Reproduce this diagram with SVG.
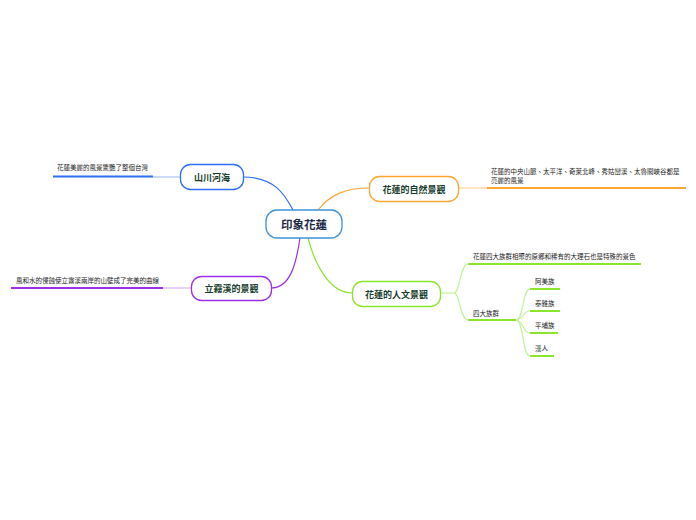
<svg xmlns="http://www.w3.org/2000/svg" width="696" height="520" viewBox="0 0 696 520">
<style>
.node{fill:#fff;stroke-width:1.3}
.lbl{font-family:"Noto Sans CJK TC","Noto Sans CJK SC",sans-serif;font-size:9px;fill:#173d2c;font-weight:bold;text-anchor:middle;dominant-baseline:central}
.sm{font-family:"Noto Sans CJK TC","Noto Sans CJK SC",sans-serif;font-size:6.5px;fill:#222}
.c{fill:none;stroke-width:1.2}
.u{fill:none;stroke-width:2}
</style>
<rect width="696" height="520" fill="#fff"/>
<g id="connectors">
<path class="c" stroke="#2f6ef5" d="M243,177 C275,177 285,195 293,210"/>
<path class="c" stroke="#ffa630" d="M318,210 C330,195 345,188 369,188"/>
<path class="c" stroke="#9b30e8" d="M300,238 C296,265 290,288 271,288"/>
<path class="c" stroke="#8ae62a" d="M308,238 C315,265 330,293 352,293"/>
<path class="c" stroke="#a9c3fb" d="M180,177 L153,177"/>
<path class="u" stroke="#2f6ef5" d="M153,176.5 L53,176.5"/>
<path class="c" stroke="#ffcf95" d="M459,188 L487,188"/>
<path class="u" stroke="#ffa630" d="M487,188 L686,188"/>
<path class="c" stroke="#d9b3f5" d="M191,288 L163,288"/>
<path class="u" stroke="#9b30e8" d="M163,288 L11,288"/>
<path class="c" stroke="#c4f29a" d="M440,293 L454,293"/>
<path class="c" stroke="#c4f29a" d="M454,293 C460,293 460,264 468,264"/>
<path class="u" stroke="#8ae62a" d="M468,264 L641,264"/>
<path class="c" stroke="#c4f29a" d="M454,293 C460,293 460,320 468,320"/>
<path class="u" stroke="#8ae62a" d="M468,320 L516,320"/>
<path class="c" stroke="#c4f29a" d="M516,320 C524,320 522,289 530,289"/>
<path class="c" stroke="#c4f29a" d="M516,320 C524,320 522,311 530,311"/>
<path class="c" stroke="#c4f29a" d="M516,320 C524,320 522,333 530,333"/>
<path class="c" stroke="#c4f29a" d="M516,320 C524,320 522,356 530,356"/>
<path class="u" stroke="#8ae62a" d="M530,289 L560,289"/>
<path class="u" stroke="#8ae62a" d="M530,311 L560,311"/>
<path class="u" stroke="#8ae62a" d="M530,333 L558,333"/>
<path class="u" stroke="#8ae62a" d="M530,356 L554,356"/>
</g>
<g id="center">
<rect class="node" x="266" y="210" width="76" height="28" rx="11" stroke="#3d94d6"/>
<text class="lbl" x="304" y="224" style="font-size:11.5px;fill:#1c2a48">印象花蓮</text>
</g>
<g id="n-shanchuan">
<rect class="node" x="180.5" y="164.5" width="63" height="25" rx="10" stroke="#2f6ef5"/>
<text class="lbl" x="212" y="177">山川河海</text>
<text class="sm" x="57" y="170">花蓮美麗的風景驚艷了整個台灣</text>
</g>
<g id="n-nature">
<rect class="node" x="369.5" y="176.5" width="89" height="25" rx="10" stroke="#ffa630"/>
<text class="lbl" x="414" y="189">花蓮的自然景觀</text>
<text class="sm" x="491" y="174">花蓮的中央山脈、太平洋、奇萊北峰、秀姑巒溪、太魯閣峽谷都是</text>
<text class="sm" x="491" y="183">亮麗的風景</text>
</g>
<g id="n-liwu">
<rect class="node" x="191.5" y="276.5" width="80" height="24" rx="10" stroke="#9b30e8"/>
<text class="lbl" x="231.5" y="288.5">立霧溪的景觀</text>
<text class="sm" x="16" y="283">風和水的侵蝕使立霧溪兩岸的山壁成了完美的曲線</text>
</g>
<g id="n-culture">
<rect class="node" x="352.5" y="281.5" width="88" height="25" rx="10" stroke="#8ae62a"/>
<text class="lbl" x="396.5" y="294">花蓮的人文景觀</text>
</g>
<g id="n-culture-1"><text class="sm" x="473" y="259">花蓮四大族群相聚的原鄉和稀有的大理石也是特殊的景色</text></g>
<g id="n-four"><text class="sm" x="473" y="316">四大族群</text></g>
<g id="n-amis"><text class="sm" x="535" y="284">阿美族</text></g>
<g id="n-atayal"><text class="sm" x="535" y="306">泰雅族</text></g>
<g id="n-pingpu"><text class="sm" x="535" y="328">平埔族</text></g>
<g id="n-han"><text class="sm" x="535" y="351">漢人</text></g>
</svg>
